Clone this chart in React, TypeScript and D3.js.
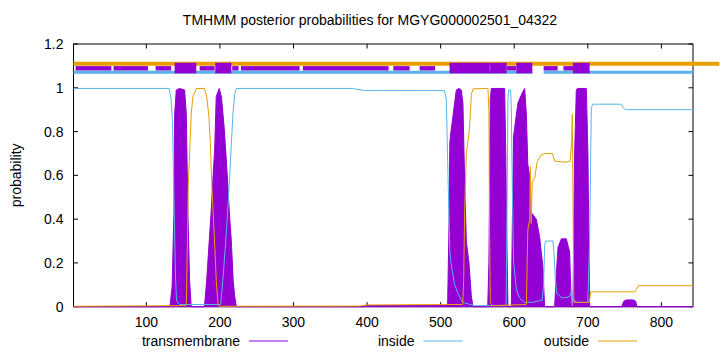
import React from "react";
import * as d3 from "d3";

const TITLE = "TMHMM posterior probabilities for MGYG000002501_04322";
const Y_LABEL = "probability";
const SEQ_START = 1;
const SEQ_END = 843;
const X_TICKS = [100, 200, 300, 400, 500, 600, 700, 800];
const Y_TICKS = [0, 0.2, 0.4, 0.6, 0.8, 1, 1.2];
const LEGEND = ["transmembrane", "inside", "outside"];
const COLORS = { tm: "#9400d3", inside: "#56b4e9", outside: "#e69f00" };

// posterior probability of transmembrane state [residue, p]
const tmPoints: [number, number][] = [
  [1, 0], [132, 0], [133, 0.03], [135, 0.09], [137.5, 0.43], [138.5, 0.88], [140.7, 0.99], [145, 0.997],
  [152, 0.99], [154.3, 0.88], [156.5, 0.43], [158.8, 0.12], [161, 0],
  [179, 0], [182, 0.12], [188, 0.43], [193, 0.73], [195, 0.96], [199, 0.997], [202, 0.96], [206, 0.81],
  [210, 0.6], [213, 0.42], [215.5, 0.3], [218, 0.12], [220, 0.05], [222.3, 0],
  [395, 0], [400, 0.005], [505, 0.005], [509.5, 0.01], [511.5, 0.4], [512.5, 0.75], [514, 0.8], [516, 0.85],
  [519, 0.93], [521.3, 0.99], [525, 0.997], [528, 0.99], [530.3, 0.93], [532.6, 0.58], [534.9, 0.3],
  [538.5, 0.2], [541.7, 0.05], [543.9, 0],
  [564, 0], [565.6, 0.2], [567.5, 0.95], [568.9, 0.997], [587, 0.997], [588.5, 0.7], [590, 0.3], [591.5, 0],
  [596.1, 0], [597.5, 0.4], [599.2, 0.78], [603, 0.88], [605.1, 0.93], [610, 0.97], [614.2, 0.997],
  [616.5, 0.88], [618.5, 0.65], [620.9, 0.6], [622.3, 0.4], [623.2, 0.43], [630, 0.4], [634.5, 0.32],
  [639, 0.18], [641.3, 0],
  [655, 0], [657.2, 0.15], [659.5, 0.27], [664, 0.31], [670.8, 0.31], [675.3, 0.25], [677.6, 0],
  [679.8, 0], [682.1, 0.7], [684.4, 0.99], [686, 0.997], [698, 0.997], [700.2, 0.7], [702.5, 0],
  [746, 0], [749, 0.025], [752, 0.031], [762, 0.031], [765, 0.025], [767, 0], [843, 0],
];

// posterior probability of inside state
const insidePoints: [number, number][] = [
  [1, 0.997], [131, 0.997], [133.5, 0.95], [135.5, 0.85], [137.5, 0.5], [139.5, 0.15], [141, 0.03],
  [145, 0.01], [201, 0.01], [204, 0.12], [209, 0.35], [213, 0.58], [217.7, 0.88], [220, 0.97],
  [222.3, 0.997], [380, 0.997], [395, 0.988], [505, 0.987], [507.7, 0.95], [510, 0.6], [512.5, 0.25],
  [514.5, 0.19], [519, 0.1], [525, 0.05], [530, 0.02], [545, 0.005], [589, 0.005], [590.1, 0.4],
  [591.5, 0.95], [592.4, 0.99], [595.1, 0.99], [596.1, 0.9], [597.4, 0.55], [599.2, 0.2], [603, 0.08],
  [607, 0.04], [614, 0.02], [625, 0.02], [638, 0.03], [640, 0.1], [641.3, 0.28], [643, 0.3],
  [652.6, 0.3], [654, 0.25], [656, 0.12], [658, 0.06], [665, 0.04], [675, 0.045], [677.6, 0.07],
  [679.5, 0.04], [684, 0.02], [700, 0.02], [702.5, 0.3], [704.8, 0.91], [707, 0.925], [745, 0.925],
  [748, 0.91], [751, 0.9], [843, 0.9],
];

// posterior probability of outside state
const outsidePoints: [number, number][] = [
  [1, 0.002], [154.3, 0.005], [155.7, 0.27], [157, 0.55], [161, 0.88], [163.3, 0.96], [168, 0.997],
  [179, 0.997], [182, 0.96], [185, 0.87], [187, 0.75], [189, 0.55], [192, 0.35], [195, 0.12],
  [197.5, 0.01], [199, 0.002], [390, 0.003], [400, 0.008], [505, 0.01], [530, 0.01], [531.3, 0.12],
  [532.6, 0.43], [534.9, 0.7], [536, 0.73], [538.5, 0.79], [540, 0.86], [541.7, 0.97], [544, 0.995],
  [564.3, 0.997], [565.6, 0.9], [566.6, 0.3], [567.5, 0.02], [570, 0.005], [616.5, 0.01], [618.5, 0.35],
  [621, 0.4], [622, 0.64], [623, 0.38], [624.5, 0.57], [628, 0.59], [631, 0.66], [636, 0.69],
  [641, 0.7], [652, 0.7], [655, 0.665], [670, 0.66], [676, 0.665], [678, 0.75], [679, 0.88],
  [680, 0.45], [681, 0.02], [702, 0.02], [704, 0.068], [764, 0.068], [769, 0.096], [843, 0.096],
];

// topology strip at the top
const smallTmBoxes: [number, number][] = [
  [3.9, 52.5], [55.4, 102.3], [112.6, 133.7], [172.4, 192.8], [216.7, 225.4], [228.6, 308.3],
  [312.8, 429.3], [435.7, 457.8], [471.4, 492.4], [589.7, 602.7], [640, 659], [666.9, 680.8],
];
const bigTmBoxes: [number, number][] = [
  [138.4, 167.9], [193.7, 215.5], [512.1, 566.8], [567.2, 589.7], [602.9, 624.6], [679.8, 702.5],
];
const insideBand: [number, number][] = [[1, 624.6], [640, 843]];
const outsideBand: [number, number][] = [[1, 879]];
const BAND = { outside: 1.11, inside: 1.071, smallLo: 1.079, smallHi: 1.099, bigLo: 1.066, bigHi: 1.114 };

const W = 720;
const H = 352;
const L = 73.5, R = 693, T = 44, B = 306.7;
const FONT = "'Liberation Sans', Arial, Helvetica, sans-serif";

export default function App() {
  const x = d3.scaleLinear().domain([SEQ_START, SEQ_END]).range([L, R]);
  const y = d3.scaleLinear().domain([0, 1.2]).range([B, T]);
  const area = d3.area<[number, number]>().x((d) => x(d[0])).y0(y(0)).y1((d) => y(d[1]));
  const line = d3.line<[number, number]>().x((d) => x(d[0])).y((d) => y(d[1]));
  const tick = 4.5;

  return (
    <svg width={W} height={H} style={{ position: "absolute", left: 0, top: 0, background: "#fff" }}
      fontFamily={FONT}>
      <rect width={W} height={H} fill="#fff" />
      <text x={370} y={25} textAnchor="middle" fontSize={14}>{TITLE}</text>
      {/* frame */}
      <rect x={L} y={T} width={R - L} height={B - T} fill="none" stroke="#000" strokeWidth={1} />
      {Y_TICKS.map((t) => (
        <g key={"y" + t}>
          <line x1={L} x2={L + tick} y1={y(t)} y2={y(t)} stroke="#000" />
          <line x1={R} x2={R - tick} y1={y(t)} y2={y(t)} stroke="#000" />
          <text x={63.5} y={y(t) + 5} textAnchor="end" fontSize={14}>{String(t)}</text>
        </g>
      ))}
      {X_TICKS.map((t) => (
        <g key={"x" + t}>
          <line x1={x(t)} x2={x(t)} y1={B} y2={B - tick} stroke="#000" />
          <line x1={x(t)} x2={x(t)} y1={T} y2={T + tick} stroke="#000" />
          <text x={x(t)} y={327} textAnchor="middle" fontSize={14}>{String(t)}</text>
        </g>
      ))}
      <text transform={`translate(21,${(T + B) / 2}) rotate(-90)`} textAnchor="middle" fontSize={14}>{Y_LABEL}</text>

      {/* topology strip */}
      {outsideBand.map((s, i) => (
        <line key={"ob" + i} x1={x(s[0])} x2={x(s[1])} y1={y(BAND.outside)} y2={y(BAND.outside)}
          stroke={COLORS.outside} strokeWidth={4} />
      ))}
      {insideBand.map((s, i) => (
        <line key={"ib" + i} x1={x(s[0])} x2={x(s[1])} y1={y(BAND.inside)} y2={y(BAND.inside)}
          stroke={COLORS.inside} strokeWidth={3} />
      ))}
      {smallTmBoxes.map((s, i) => (
        <rect key={"sb" + i} x={x(s[0])} width={x(s[1]) - x(s[0])} y={y(BAND.smallHi)}
          height={y(BAND.smallLo) - y(BAND.smallHi)} fill={COLORS.tm} />
      ))}
      {bigTmBoxes.map((s, i) => (
        <rect key={"bb" + i} x={x(s[0])} width={x(s[1]) - x(s[0])} y={y(BAND.bigHi)}
          height={y(BAND.bigLo) - y(BAND.bigHi)} fill={COLORS.tm} />
      ))}

      {/* curves */}
      <path d={area(tmPoints) || ""} fill={COLORS.tm} stroke={COLORS.tm} strokeWidth={1} />
      <path d={line(insidePoints) || ""} fill="none" stroke={COLORS.inside} strokeWidth={1} />
      <path d={line(outsidePoints) || ""} fill="none" stroke={COLORS.outside} strokeWidth={1} />

      {/* legend */}
      {LEGEND.map((name, i) => {
        const right = 240 + i * 174.5;
        const c = [COLORS.tm, COLORS.inside, COLORS.outside][i];
        return (
          <g key={name}>
            <text x={right} y={346} textAnchor="end" fontSize={14}>{name}</text>
            <line x1={right + 9} x2={right + 48} y1={341} y2={341} stroke={c} strokeWidth={1} />
          </g>
        );
      })}
    </svg>
  );
}
